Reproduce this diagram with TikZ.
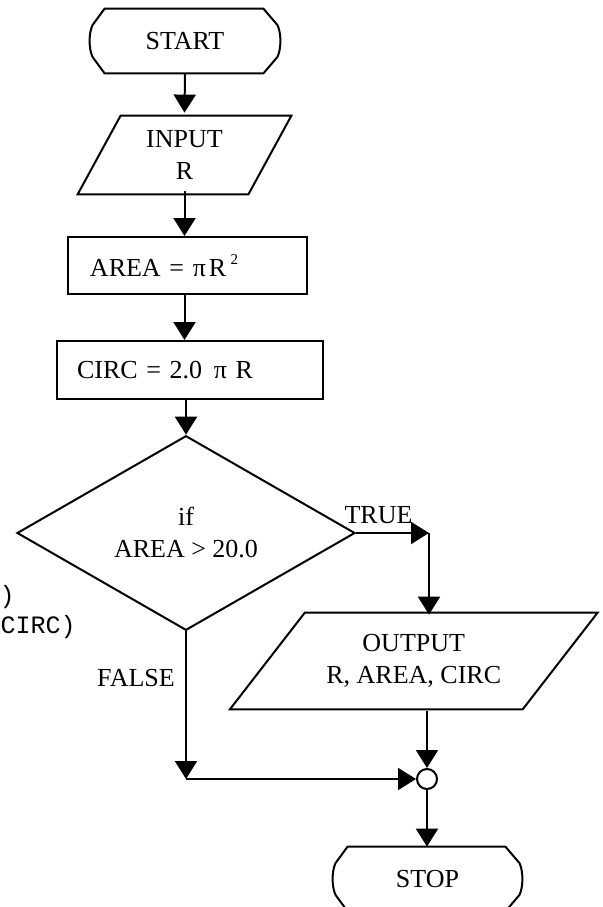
\documentclass[tikz,border=0pt]{standalone}
\usepackage{fontspec}
\setmainfont{Liberation Serif}
\setmonofont{Liberation Mono}
\usetikzlibrary{arrows.meta,shapes.geometric,calc}

% outline of a start/stop terminal around a (borderless) node
\newcommand\termoutline[1]{%
  \draw[line] ($(#1.north west)+(16,0)$) -- ($(#1.north east)+(-18,0)$)
    -- ($(#1.east)+(-4,-16)$) .. controls ($(#1.east)+(0,-8)$) and ($(#1.east)+(0,8)$) .. ($(#1.east)+(-4,16)$)
    -- ($(#1.south east)+(-18,0)$) -- ($(#1.south west)+(16,0)$)
    -- ($(#1.west)+(4,16)$) .. controls ($(#1.west)+(0,8)$) and ($(#1.west)+(0,-8)$) .. ($(#1.west)+(4,-16)$)
    -- cycle;}
% outline of an input/output parallelogram, #2 = half of the slant, #3 = vertical offset
\newcommand\iooutline[3]{%
  \draw[line,yshift=#3] ($(#1.north west)+(#2,0)$) -- ($(#1.north east)+(#2,0)$)
    -- ($(#1.south east)+(-#2,0)$) -- ($(#1.south west)+(-#2,0)$) -- cycle;}

\begin{document}
\begin{tikzpicture}[x=0.5pt,y=-0.5pt,
  line/.style={line width=1pt},
  flow/.style={line, -{Triangle[length=9pt,width=11pt]}},
  txt/.style={font=\fontsize{13}{16}\selectfont},
  shapebox/.style={txt, draw=none, inner sep=0pt, align=center},
  procbox/.style={txt, draw, line, inner ysep=0pt, align=left},
  decision/.style={txt, diamond, draw, line, inner sep=0pt, align=center},
  joint/.style={circle, draw, line, fill=white, inner sep=0pt, minimum size=10pt},
  code/.style={font=\ttfamily\fontsize{12.5}{15}\selectfont, inner sep=0pt, anchor=base east}]

\useasboundingbox (0,0) rectangle (602,907);
\clip (0,0) rectangle (602,907);

% steps
\node[shapebox, minimum width=85pt, minimum height=39pt] (input) at (184.5,155) {INPUT\\R};
\iooutline{input}{21.5}{1.5pt}

\node[shapebox, minimum width=96pt, minimum height=32pt] (start) at (185,41) {START};
\termoutline{start}

\node[procbox, minimum height=28.5pt, text width=97.5pt, inner xsep=11pt] (area) at (187.5,265.5)
  {AREA = π\kern1.5pt R\,\raisebox{0.45em}{\fontsize{7.5}{8}\selectfont 2}};

\node[procbox, minimum height=29pt, text width=113pt, inner xsep=10pt] (circ) at (190,370)
  {CIRC = 2.0\hspace{0.45em}π R};

\node[decision, minimum width=169pt, minimum height=80pt] (dec) at (186,533) {if\\AREA > 20.0};

\node[shapebox, minimum width=146pt, minimum height=48pt] (output) at (413.75,661) {OUTPUT\\R, AREA, CIRC};
\iooutline{output}{37.5}{-1pt}

\node[joint] (join) at (427,779) {};

\node[shapebox, minimum width=95.5pt, minimum height=32pt] (stop) at (427.5,879) {STOP};
\termoutline{stop}

% branch labels
\node[txt] (truelbl) at (378.5,515) {TRUE};
\node[txt] (falselbl) at (136,678) {FALSE};

% listing fragments at the left edge
\node[code] (codea) at (15,603) {)};
\node[code] (codeb) at (76,633) {CIRC)};

% bends of the branches
\coordinate (tcorner) at (429,533);
\coordinate (fcorner) at (dec.south |- join.west);

% connectors
\draw[flow] (start.south) -- ([yshift=1.5pt]input.north);
\draw[flow] ([yshift=1.5pt]input.south) -- (input.south |- area.north);
\draw[flow] (input.south |- area.south) -- (input.south |- circ.north);
\draw[flow] (dec.north |- circ.south) -- (dec.north);
\draw[flow] (dec.east) -- (tcorner);
\draw[flow] (tcorner) -- ([yshift=-1pt]tcorner |- output.north);
\draw[flow] ([yshift=-1pt]join.north |- output.south) -- (join.north);
\draw[flow] (dec.south) -- (fcorner);
\draw[flow] (fcorner) -- (join.west);
\draw[flow] (join.south) -- (join.south |- stop.north);
\end{tikzpicture}
\end{document}
